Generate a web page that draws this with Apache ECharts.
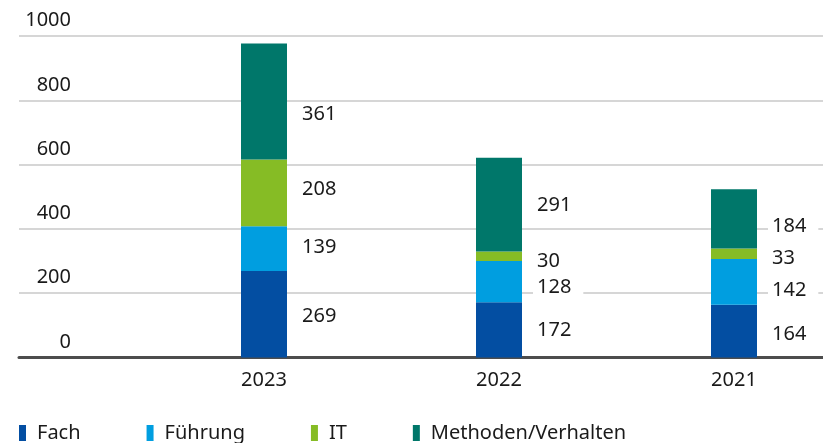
<!DOCTYPE html>
<html>
<head>
<meta charset="utf-8">
<script src="https://cdn.jsdelivr.net/npm/echarts@6/dist/echarts.min.js"></script>
<style>
  html, body { margin: 0; padding: 0; background: #fff; }
  #chart { width: 823px; height: 443px; }
</style>
</head>
<body>
<div id="chart"></div>
<script>
// Weiterbildungen nach Kategorie und Jahr
const years = ['2023', '2022', '2021'];
const fach = [269, 172, 164];
const fuehrung = [139, 128, 142];
const it = [208, 30, 33];
const methoden = [361, 291, 184];
const yTicks = [0, 200, 400, 600, 800, 1000];

const FONT = '"Noto Sans", "Open Sans", sans-serif';
const TEXT = '#1a1a1a';

// vertical nudges of the value labels so they clear each other and the grid lines
const labelShift = {
  Fach: [2, 0, 3],
  'Führung': [-1, 6, 8],
  IT: [-4, 5, 4],
  'Methoden/Verhalten': [13, 1, 7]
};

const seriesDefs = [
  { name: 'Fach', values: fach, color: '#034ea2' },
  { name: 'Führung', values: fuehrung, color: '#009ee0' },
  { name: 'IT', values: it, color: '#86bc25' },
  { name: 'Methoden/Verhalten', values: methoden, color: '#00776a' }
];

const series = seriesDefs.map(d => ({
  name: d.name,
  type: 'bar',
  stack: 'total',
  xAxisIndex: 1,
  yAxisIndex: 1,
  barWidth: 46,
  itemStyle: { color: d.color },
  label: {
    show: true,
    position: 'right',
    distance: 11,
    color: TEXT,
    fontFamily: FONT,
    fontSize: 20,
    backgroundColor: '#fff',
    padding: [1, 12, 1, 4]
  },
  data: d.values.map((v, i) => ({
    value: v,
    label: { offset: [0, labelShift[d.name][i]] }
  }))
}));

const chart = echarts.init(document.getElementById('chart'), null, { renderer: 'canvas' });
chart.setOption({
  animation: false,
  backgroundColor: '#fff',
  textStyle: { fontFamily: FONT },
  grid: [
    // frame carrying the value scale, grid lines and baseline
    { left: 19, right: 0, top: 36, bottom: 85.5 },
    // frame for the bars; categories sit on the ticks
    { left: 264, right: 89, top: 36, bottom: 85.5 }
  ],
  xAxis: [
    {
      gridIndex: 0,
      type: 'value',
      min: 0,
      max: 1,
      axisLine: { show: true, lineStyle: { color: '#4d4d4d', width: 3 } },
      axisTick: { show: false },
      axisLabel: { show: false },
      splitLine: { show: false }
    },
    {
      gridIndex: 1,
      type: 'category',
      data: years,
      boundaryGap: false,
      axisLine: { show: false },
      axisTick: { show: false },
      axisLabel: { color: TEXT, fontFamily: FONT, fontSize: 20, margin: 13 }
    }
  ],
  yAxis: [
    {
      gridIndex: 0,
      type: 'value',
      min: yTicks[0],
      max: yTicks[yTicks.length - 1],
      interval: yTicks[1] - yTicks[0],
      axisLine: { show: false },
      axisTick: { show: false },
      axisLabel: {
        inside: true,
        margin: 52,
        align: 'right',
        verticalAlign: 'bottom',
        lineHeight: 31,
        formatter: v => String(v),
        color: TEXT,
        fontFamily: FONT,
        fontSize: 20
      },
      splitLine: { lineStyle: { color: '#c8c8c8', width: 1.5 } }
    },
    {
      gridIndex: 1,
      type: 'value',
      min: yTicks[0],
      max: yTicks[yTicks.length - 1],
      show: false
    }
  ],
  legend: {
    left: 19,
    top: 423,
    padding: 0,
    icon: 'rect',
    itemWidth: 7,
    itemHeight: 16,
    itemGap: 66,
    textStyle: { color: TEXT, fontFamily: FONT, fontSize: 20, padding: [0, 0, 0, 6] },
    data: seriesDefs.map(d => d.name)
  },
  series: series
});
</script>
</body>
</html>
